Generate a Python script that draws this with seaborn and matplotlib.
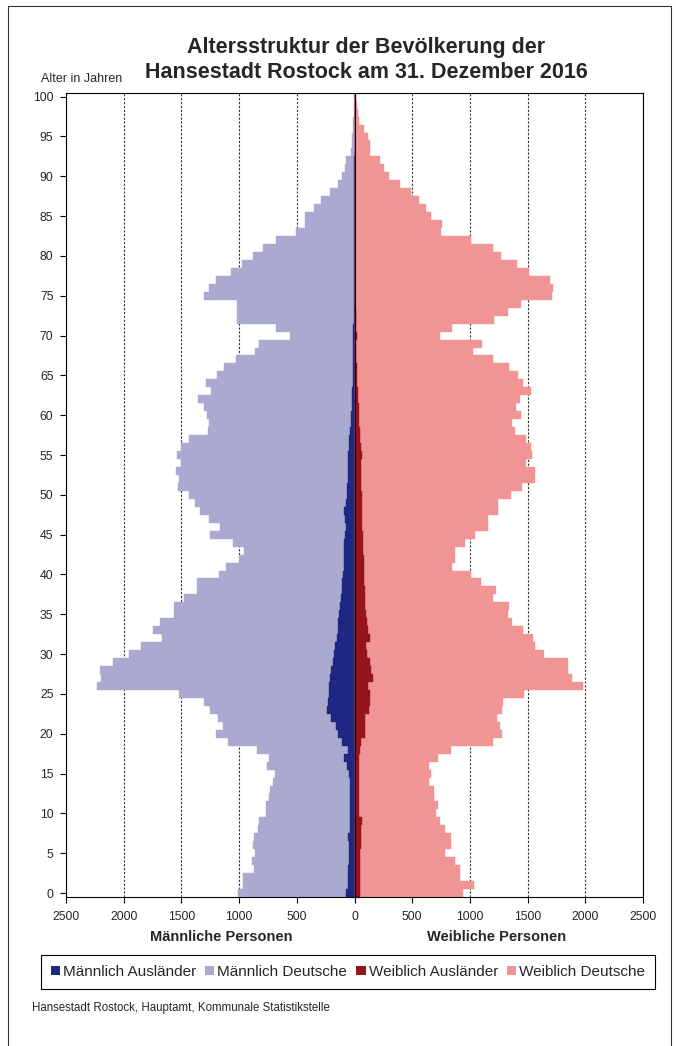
import matplotlib
matplotlib.use('Agg')
import matplotlib.pyplot as plt
import numpy as np
import pandas as pd
import seaborn as sns
from matplotlib.patches import Patch, Rectangle

# Alter 0 bis 100
alter = list(range(0, 101))

maennlich_auslaender = [
    72, 52, 52, 52, 49, 49, 49, 60, 37, 37,
    37, 37, 37, 37, 43, 49, 66, 95, 60, 110,
    144, 159, 205, 234, 230, 219, 225, 216, 205, 190,
    175, 167, 153, 145, 140, 135, 124, 118, 110, 107,
    100, 95, 92, 89, 90, 85, 72, 80, 90, 70,
    68, 65, 60, 58, 55, 52, 49, 45, 42, 30,
    29, 25, 22, 18, 14, 12, 11, 10, 10, 10,
    10, 9, 8, 7, 6, 5, 5, 4, 4, 4,
    3, 3, 3, 2, 2, 2, 2, 1, 1, 1,
    1, 1, 1, 0, 0, 0, 0, 0, 0, 0,
    0]

maennlich_deutsche = [
    939, 918, 915, 817, 840, 809, 832, 815, 800, 789,
    731, 728, 708, 699, 659, 644, 693, 644, 786, 987,
    1057, 982, 982, 1017, 1078, 1300, 2008, 1982, 1998, 1907,
    1783, 1684, 1517, 1597, 1544, 1427, 1438, 1358, 1256, 1259,
    1072, 1017, 907, 866, 964, 1165, 1092, 1178, 1252, 1310,
    1370, 1463, 1465, 1487, 1449, 1487, 1455, 1387, 1231, 1235,
    1250, 1282, 1335, 1223, 1273, 1180, 1124, 1015, 850, 816,
    547, 669, 1006, 1007, 1008, 1297, 1260, 1197, 1067, 972,
    877, 791, 678, 503, 425, 425, 353, 288, 215, 138,
    109, 79, 69, 30, 25, 20, 15, 12, 8, 5,
    3]

weiblich_auslaender = [
    49, 49, 49, 49, 49, 49, 55, 55, 55, 66,
    35, 35, 35, 35, 35, 35, 35, 43, 49, 55,
    90, 92, 92, 127, 136, 130, 121, 159, 142, 136,
    107, 101, 130, 113, 107, 101, 95, 92, 88, 85,
    84, 80, 78, 75, 73, 70, 68, 65, 64, 64,
    62, 60, 58, 56, 55, 64, 52, 48, 45, 43,
    40, 35, 32, 28, 25, 22, 18, 15, 14, 14,
    20, 12, 10, 9, 8, 8, 7, 6, 6, 5,
    5, 4, 4, 4, 3, 3, 3, 3, 2, 2,
    2, 2, 2, 1, 1, 1, 1, 1, 0, 0,
    0]

weiblich_deutsche = [
    887, 988, 867, 867, 823, 731, 780, 780, 725, 671,
    673, 687, 658, 658, 612, 629, 612, 679, 786, 1149,
    1187, 1170, 1147, 1150, 1155, 1340, 1863, 1724, 1712, 1710,
    1537, 1459, 1421, 1343, 1262, 1225, 1246, 1107, 1137, 1013,
    924, 769, 789, 792, 886, 976, 1087, 1096, 1178, 1178,
    1296, 1390, 1502, 1504, 1433, 1473, 1476, 1437, 1342, 1323,
    1401, 1363, 1404, 1500, 1439, 1399, 1322, 1184, 1011, 1089,
    717, 831, 1200, 1325, 1433, 1702, 1709, 1684, 1508, 1402,
    1266, 1195, 1004, 744, 754, 661, 618, 557, 486, 394,
    301, 255, 215, 135, 129, 112, 83, 42, 26, 20,
    14]

serien = ['Männlich Ausländer', 'Männlich Deutsche', 'Weiblich Ausländer', 'Weiblich Deutsche']
farben = ['#1e2882', '#aaaad0', '#96141e', '#f09494']

sns.set_style('white')
plt.rcParams['font.family'] = ['Liberation Sans', 'DejaVu Sans']

df = pd.DataFrame({
    'Alter': alter,
    'm_ausl': maennlich_auslaender,
    'm_deut': maennlich_deutsche,
    'w_ausl': weiblich_auslaender,
    'w_deut': weiblich_deutsche,
})
# gestapelt: Deutsche liegen aussen auf den Auslaendern
df['m_stapel'] = -(df['m_ausl'] + df['m_deut'])
df['m_innen'] = -df['m_ausl']
df['w_stapel'] = df['w_ausl'] + df['w_deut']
df['w_innen'] = df['w_ausl']

W, H = 676, 1046
fig = plt.figure(figsize=(W / 100, H / 100), dpi=100)
ax = fig.add_axes([66 / W, 1 - 897 / H, (643 - 66) / W, (897 - 92.7) / H])

lagen = [('m_stapel', farben[1]), ('m_innen', farben[0]),
         ('w_stapel', farben[3]), ('w_innen', farben[2])]
for spalte, farbe in lagen:
    sns.barplot(data=df, x=spalte, y='Alter', orient='h', native_scale=True,
                color=farbe, saturation=1, width=1.0, errorbar=None,
                edgecolor=farbe, linewidth=0.3, ax=ax)

ax.set_xlim(-2500, 2500)
ax.set_ylim(-0.5, 100.5)
xt = list(range(-2500, 2501, 500))
ax.set_xticks(xt)
ax.set_xticklabels([str(abs(v)) for v in xt])
ax.set_yticks(list(range(0, 101, 5)))
ax.set_yticklabels([str(v) for v in range(0, 101, 5)])
ax.set_xlabel('')
ax.set_ylabel('')
ax.tick_params(axis='both', direction='out', length=4, width=0.8, color='black',
               labelsize=8.8, bottom=True, left=True)
ax.tick_params(axis='x', pad=6)
ax.tick_params(axis='y', pad=5)

ax.set_axisbelow(True)
ax.xaxis.grid(True, linestyle=(0, (2, 1.5)), color='#333333', linewidth=0.8)
ax.yaxis.grid(False)
ax.axvline(0, color='black', linewidth=0.8, zorder=5)
for s in ax.spines.values():
    s.set_visible(True)
    s.set_color('black')
    s.set_linewidth(0.8)

fig.text(366 / W, 1 - 60 / H,
         'Altersstruktur der Bevölkerung der\nHansestadt Rostock am 31. Dezember 2016',
         ha='center', va='center', fontsize=15.5, fontweight='bold')
fig.text(41 / W, 1 - 79 / H, 'Alter in Jahren', ha='left', va='center', fontsize=9)
fig.text(221 / W, 1 - 937 / H, 'Männliche Personen', ha='center', va='center',
         fontsize=10.5, fontweight='bold')
fig.text(497 / W, 1 - 937 / H, 'Weibliche Personen', ha='center', va='center',
         fontsize=10.5, fontweight='bold')

handles = [Patch(facecolor=f, edgecolor='none') for f in farben]
leg = fig.legend(handles, serien, loc='center', bbox_to_anchor=(348 / W, 1 - 972 / H),
                 ncol=4, frameon=True, fancybox=False, edgecolor='black', framealpha=1,
                 fontsize=11, handlelength=0.6, handleheight=0.6, handletextpad=0.2,
                 columnspacing=0.6, borderpad=0.65, borderaxespad=0)
leg.get_frame().set_linewidth(0.8)

fig.text(32 / W, 1 - 1008 / H, 'Hansestadt Rostock, Hauptamt, Kommunale Statistikstelle',
         ha='left', va='center', fontsize=8.3)

rahmen = Rectangle((8 / W, -0.05), (671 - 8) / W, 1.05 - 6 / H, transform=fig.transFigure,
                   fill=False, edgecolor='#333333', linewidth=0.8)
fig.patches.append(rahmen)

fig.savefig('out.png', dpi=100)
plt.close(fig)
